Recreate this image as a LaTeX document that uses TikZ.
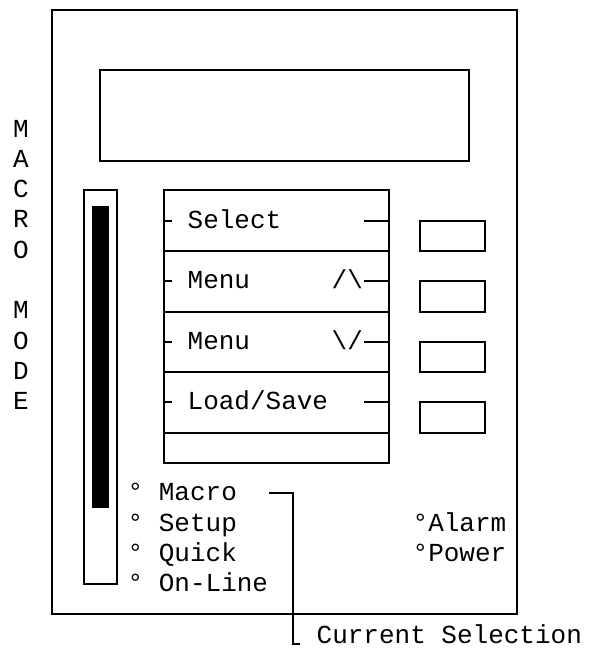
\documentclass[tikz,border=0pt]{standalone}
\usepackage{fontspec}
\setmonofont{Liberation Mono}
\begin{document}
\begin{tikzpicture}[x=1pt,y=-1pt,line width=1.3pt,
  txt/.style={anchor=base west,inner sep=0pt,font=\fontsize{26}{30}\selectfont\ttfamily},
  vlet/.style={anchor=base,inner sep=0pt,font=\fontsize{26}{30}\selectfont\ttfamily},
  boxline/.style={draw,line width=1.3pt}]
\useasboundingbox (0,0) rectangle (589,654);
% outer case
\draw[boxline] (52,10) rectangle (517,614);
% display
\draw[boxline] (100,70) rectangle (469,161);
% slider and bar
\draw[boxline] (84,190) rectangle (117,584);
\fill (92,206) rectangle (109,508);
% menu box
\draw[boxline] (164,190) rectangle (389,463);
\foreach \y in {251,312,372,433} \draw (164,\y) -- (389,\y);
\foreach \y in {221,281,342,402} {
  \draw (164,\y) -- (172,\y);
  \draw (364,\y) -- (389,\y);
}
% buttons
\draw[boxline] (420,221) rectangle (485,251);
\draw[boxline] (420,281) rectangle (485,312);
\draw[boxline] (420,342) rectangle (485,372);
\draw[boxline] (420,402) rectangle (485,433);
% menu labels
\node[txt] (select) at (187,228) {Select};
\node[txt] (menuup) at (187,288.5) {Menu};
\node[txt] (upsym) at (331,288.5) {/\char`\\};
\node[txt] (menudn) at (187,349) {Menu};
\node[txt] (dnsym) at (331,349) {\char`\\/};
\node[txt] (loadsave) at (187,409.5) {Load/Save};
% vertical text
\foreach \l [count=\i from 0] in {M,A,C,R,O,{},M,O,D,E}
  \node[vlet] (v\i) at (21,137+30.3*\i) {\l};
% mode labels
\node[txt] (macro) at (127,500.5) {° Macro};
\node[txt] (setup) at (127,531) {° Setup};
\node[txt] (quick) at (127,561) {° Quick};
\node[txt] (online) at (127,591.5) {° On-Line};
\node[txt] (alarm) at (412,531) {°Alarm};
\node[txt] (power) at (412,561) {°Power};
\node[txt] (cursel) at (316,643) {Current Selection};
% connector
\coordinate (c1) at (269,493);
\coordinate (c2) at (293,644);
\coordinate (c3) at (300,644);
\draw (c1) -| (c2) -- (c3);
\end{tikzpicture}
\end{document}
